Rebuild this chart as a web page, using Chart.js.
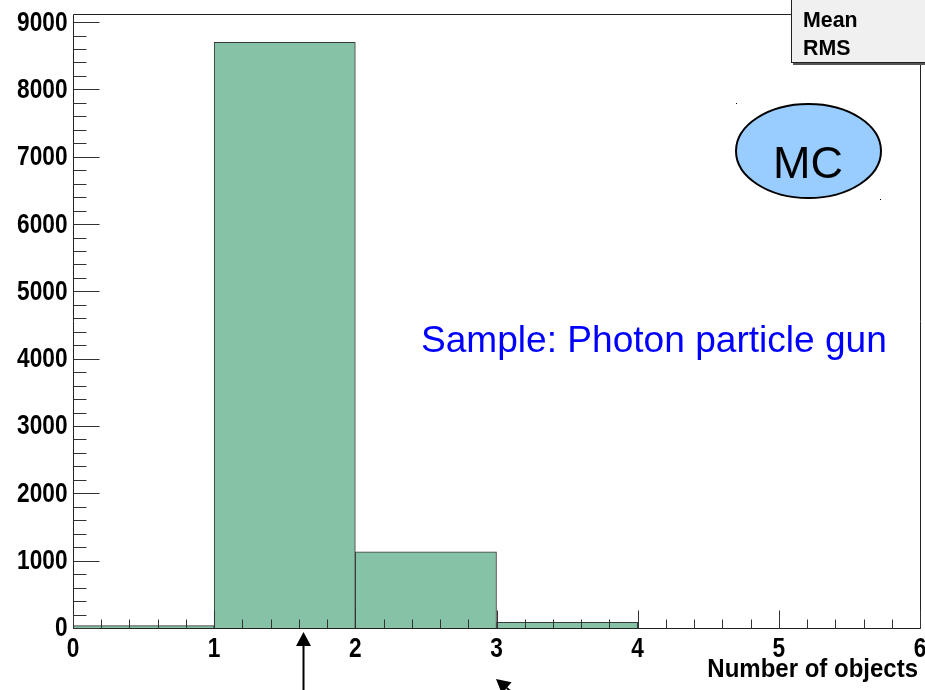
<!DOCTYPE html>
<html>
<head>
<meta charset="utf-8">
<script src="https://cdn.jsdelivr.net/npm/chart.js@4.4.0/dist/chart.umd.min.js"></script>
<style>
  html, body { margin: 0; padding: 0; background: #fff; }
  #wrap { width: 925px; height: 690px; }
</style>
</head>
<body>
<div id="wrap"><canvas id="histo" width="925" height="690"></canvas></div>
<script>
// histogram contents: bin edges and counts per bin
const binEdges = [0, 1, 2, 3, 4, 5, 6];
const binCounts = [35, 8700, 1130, 85, 0, 0];
const xTickValues = [0, 1, 2, 3, 4, 5, 6];
const xTickLabels = ['0', '1', '2', '3', '4', '5', '6'];
const yTickValues = [0, 1000, 2000, 3000, 4000, 5000, 6000, 7000, 8000, 9000];
const yTickLabels = ['0', '1000', '2000', '3000', '4000', '5000', '6000', '7000', '8000', '9000'];
const statsLabels = ['Mean', 'RMS'];
const xTitle = 'Number of objects';
const sampleText = 'Sample: Photon particle gun';
const tagText = 'MC';

const FONT = '"Liberation Sans", Arial, Helvetica, sans-serif';

// build points at bin centres so bars span the whole bin
const binPoints = binCounts.map((c, i) => ({ x: (binEdges[i] + binEdges[i + 1]) / 2, y: c }));

function drawText(ctx, text, x, y, font, align, baseline, sx, color) {
    ctx.save();
    ctx.translate(x, y);
    ctx.scale(sx, 1);
    ctx.font = font;
    ctx.textAlign = align;
    ctx.textBaseline = baseline;
    ctx.fillStyle = color || '#000';
    ctx.fillText(text, 0, 0);
    ctx.restore();
}

function drawArrow(ctx, tipX, tipY, angle, len) {
    // angle is the direction from the tip back along the shaft
    const dx = Math.cos(angle), dy = Math.sin(angle);
    const headLen = 14, headHalf = 7.5;
    ctx.save();
    ctx.strokeStyle = '#000';
    ctx.fillStyle = '#000';
    ctx.lineWidth = 2;
    ctx.beginPath();
    ctx.moveTo(tipX + dx * headLen, tipY + dy * headLen);
    ctx.lineTo(tipX + dx * len, tipY + dy * len);
    ctx.stroke();
    ctx.beginPath();
    ctx.moveTo(tipX, tipY);
    ctx.lineTo(tipX + dx * headLen - dy * headHalf, tipY + dy * headLen + dx * headHalf);
    ctx.lineTo(tipX + dx * headLen + dy * headHalf, tipY + dy * headLen - dx * headHalf);
    ctx.closePath();
    ctx.fill();
    ctx.restore();
}

// frame, inward ticks, labels and annotations drawn on top of the bars
const rootStyle = {
    id: 'rootStyle',
    afterDraw(chart) {
        const ctx = chart.ctx;
        const xs = chart.scales.x, ys = chart.scales.y;
        const area = chart.chartArea;
        const L = Math.round(area.left) + 0.5, R = Math.round(area.right) + 0.5;
        const T = Math.round(area.top) + 0.5, B = Math.round(area.bottom) + 0.5;

        ctx.save();
        ctx.strokeStyle = '#222';
        ctx.lineWidth = 1;
        ctx.beginPath();
        ctx.moveTo(L, T); ctx.lineTo(R, T); ctx.lineTo(R, B); ctx.lineTo(L, B); ctx.closePath();
        ctx.stroke();

        // y ticks: major every label, 5 subdivisions
        ctx.strokeStyle = '#333';
        ctx.beginPath();
        for (let i = 0; i < yTickValues.length; i++) {
            const v = yTickValues[i];
            const py = Math.round(ys.getPixelForValue(v)) + 0.5;
            ctx.moveTo(L, py); ctx.lineTo(L + 26, py);
            const step = i + 1 < yTickValues.length ? yTickValues[i + 1] - v : yTickValues[1] - yTickValues[0];
            for (let k = 1; k < 5; k++) {
                const mv = v + step * k / 5;
                if (mv > ys.max) break;
                const my = Math.round(ys.getPixelForValue(mv)) + 0.5;
                ctx.moveTo(L, my); ctx.lineTo(L + 13, my);
            }
        }
        // x ticks
        for (let i = 0; i < xTickValues.length; i++) {
            const v = xTickValues[i];
            const px = Math.round(xs.getPixelForValue(v)) + 0.5;
            ctx.moveTo(px, B); ctx.lineTo(px, B - 18);
            if (i + 1 < xTickValues.length) {
                const step = xTickValues[i + 1] - v;
                for (let k = 1; k < 5; k++) {
                    const mx = Math.round(xs.getPixelForValue(v + step * k / 5)) + 0.5;
                    ctx.moveTo(mx, B); ctx.lineTo(mx, B - 9);
                }
            }
        }
        ctx.stroke();
        ctx.restore();

        // tick labels
        yTickValues.forEach((v, i) => {
            drawText(ctx, yTickLabels[i], L - 6, ys.getPixelForValue(v) + 1, 'bold 27px ' + FONT, 'right', 'middle', 0.84);
        });
        xTickValues.forEach((v, i) => {
            drawText(ctx, xTickLabels[i], xs.getPixelForValue(v), 657, 'bold 27px ' + FONT, 'center', 'alphabetic', 0.84);
        });
        drawText(ctx, xTitle, 918, 677, 'bold 25px ' + FONT, 'right', 'alphabetic', 0.96);

        // stats box in the top right corner
        ctx.save();
        ctx.fillStyle = '#555';
        ctx.fillRect(793, 62, 140, 3);
        ctx.fillStyle = '#f0f0f0';
        ctx.fillRect(792, -2, 140, 64);
        ctx.strokeStyle = '#222';
        ctx.lineWidth = 1;
        ctx.strokeRect(791.5, -2, 140, 64.5);
        ctx.restore();
        drawText(ctx, statsLabels[0], 803, 27, 'bold 22px ' + FONT, 'left', 'alphabetic', 0.97);
        drawText(ctx, statsLabels[1], 803, 55, 'bold 22px ' + FONT, 'left', 'alphabetic', 0.97);

        // MC tag
        ctx.save();
        ctx.beginPath();
        ctx.ellipse(808.5, 151, 72.5, 47, 0, 0, Math.PI * 2);
        ctx.fillStyle = '#99ccff';
        ctx.fill();
        ctx.strokeStyle = '#000';
        ctx.lineWidth = 2;
        ctx.stroke();
        ctx.fillStyle = '#000';
        ctx.fillRect(736, 103, 1, 1);
        ctx.fillRect(880, 199, 1, 1);
        ctx.restore();
        drawText(ctx, tagText, 808, 178, '45px ' + FONT, 'center', 'alphabetic', 1);

        drawText(ctx, sampleText, 421, 352, '36px ' + FONT, 'left', 'alphabetic', 1.03, '#0000ff');

        // arrows below the axis
        drawArrow(ctx, 303.5, 632, Math.PI / 2, 80);
        drawArrow(ctx, 496, 679, 40 * Math.PI / 180, 60);
    }
};

new Chart(document.getElementById('histo'), {
    type: 'bar',
    data: {
        datasets: [{
            data: binPoints,
            backgroundColor: '#86c2a5',
            borderColor: '#3a3a3a',
            borderWidth: 1,
            borderSkipped: 'bottom',
            barPercentage: 1,
            categoryPercentage: 1
        }]
    },
    options: {
        responsive: false,
        animation: false,
        devicePixelRatio: 1,
        layout: { padding: { left: 73, right: 5, top: 14, bottom: 62 } },
        plugins: { legend: { display: false }, tooltip: { enabled: false } },
        scales: {
            x: { type: 'linear', min: 0, max: 6, offset: false, display: false },
            y: { type: 'linear', min: 0, max: 9120, display: false }
        }
    },
    plugins: [rootStyle]
});
</script>
</body>
</html>
